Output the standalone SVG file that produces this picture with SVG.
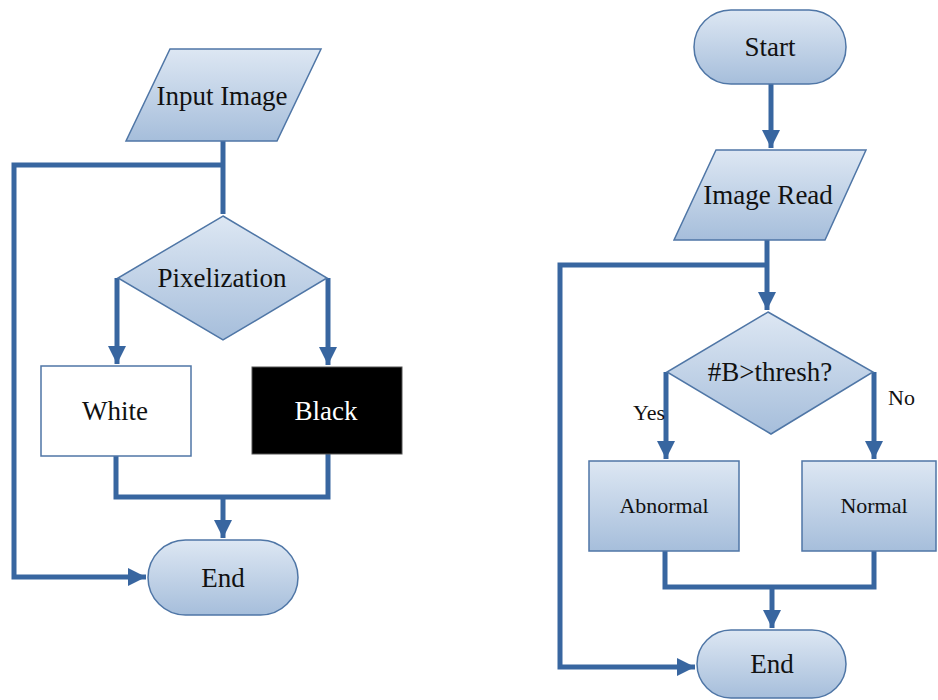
<svg xmlns="http://www.w3.org/2000/svg" width="938" height="700" viewBox="0 0 938 700">
<defs>
<linearGradient id="g" x1="0" y1="0" x2="0" y2="1">
<stop offset="0" stop-color="#dde7f3"/>
<stop offset="1" stop-color="#a6bedb"/>
</linearGradient>
<marker id="ar" viewBox="0 0 10 10" refX="10" refY="5" markerWidth="6" markerHeight="3.6" markerUnits="strokeWidth" orient="auto">
<path d="M0,0 L10,5 L0,10 z" fill="#3866a0"/>
</marker>
</defs>
<style>
.s{fill:url(#g);stroke:#4f76a6;stroke-width:1.5}
.t{font-family:"Liberation Serif","Times New Roman",serif;font-size:27px;fill:#111;text-anchor:middle}
.m{font-size:22px}
.c{fill:none;stroke:#3866a0;stroke-width:5;stroke-linejoin:miter}
.a{marker-end:url(#ar)}
</style>
<rect width="938" height="700" fill="#fff"/>
<g id="connectors">
<path class="c" d="M223,141 V214"/>
<path class="c a" d="M223,165 H14 V577 H146"/>
<path class="c a" d="M117,278 V364"/>
<path class="c a" d="M328,278 V365"/>
<path class="c" d="M116,456 V497 H328 V454"/>
<path class="c a" d="M223,497 V538"/>
<path class="c a" d="M771,84 V148"/>
<path class="c a" d="M767,240 V310"/>
<path class="c a" d="M767,265 H560 V667 H695"/>
<path class="c a" d="M666,372 V459"/>
<path class="c a" d="M874,372 V459"/>
<path class="c" d="M665,551 V587 H874 V551"/>
<path class="c a" d="M772,587 V628"/>
</g>
<g id="input-image">
<polygon class="s" points="170,49 321,49 277,141 126,141"/>
<text class="t" x="222" y="105">Input Image</text>
</g>
<g id="pixelization">
<polygon class="s" points="223,216 327,278 223,340 118,278"/>
<text class="t" x="222" y="287">Pixelization</text>
</g>
<g id="white">
<rect x="41" y="366" width="150" height="90" fill="#fff" stroke="#4f76a6" stroke-width="1.5"/>
<text class="t" x="115" y="420">White</text>
</g>
<g id="black">
<rect x="252" y="367" width="150" height="87" fill="#000" stroke="#555" stroke-width="1"/>
<text class="t" x="326" y="420" style="fill:#fff">Black</text>
</g>
<g id="end-left">
<rect class="s" x="148" y="540" width="150" height="75" rx="37.5" ry="37.5"/>
<text class="t" x="223" y="587">End</text>
</g>
<g id="start">
<rect class="s" x="694" y="10" width="152" height="74" rx="37" ry="37"/>
<text class="t" x="770" y="56">Start</text>
</g>
<g id="image-read">
<polygon class="s" points="716,150 866,150 825,240 674,240"/>
<text class="t" x="768" y="204">Image Read</text>
</g>
<g id="thresh">
<polygon class="s" points="768,312 873,372 771,434 667,372"/>
<text class="t" x="770" y="381">#B&gt;thresh?</text>
</g>
<text class="t m" x="665" y="420" style="text-anchor:end">Yes</text>
<text class="t m" x="888" y="405" style="text-anchor:start">No</text>
<g id="abnormal">
<rect class="s" x="589" y="461" width="150" height="90"/>
<text class="t m" x="664" y="513">Abnormal</text>
</g>
<g id="normal">
<rect class="s" x="802" y="461" width="134" height="90"/>
<text class="t m" x="874" y="513">Normal</text>
</g>
<g id="end-right">
<rect class="s" x="697" y="630" width="149" height="68" rx="34" ry="34"/>
<text class="t" x="772" y="673">End</text>
</g>
</svg>
